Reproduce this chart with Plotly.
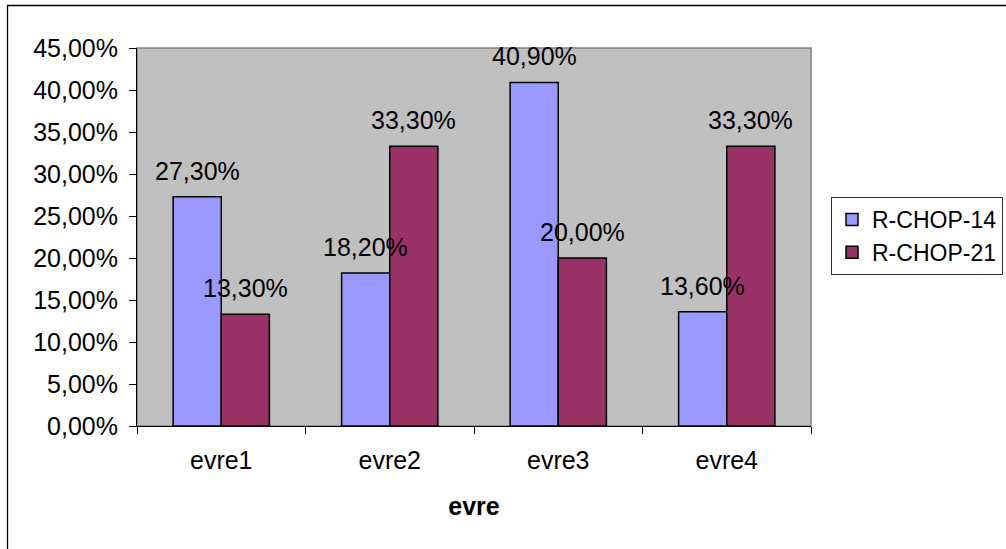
import plotly.graph_objects as go

# Data
categories = ["evre1", "evre2", "evre3", "evre4"]
series_names = ["R-CHOP-14", "R-CHOP-21"]
r_chop_14 = [0.273, 0.182, 0.409, 0.136]
r_chop_21 = [0.133, 0.333, 0.200, 0.333]
y_ticks = [0.00, 0.05, 0.10, 0.15, 0.20, 0.25, 0.30, 0.35, 0.40, 0.45]

colors = ["#9999FF", "#993366"]
FONT = "Liberation Sans, Arial, sans-serif"
FS = 25
FS_LEGEND = 23

W, H = 1006, 549
PL, PR, PT, PB = 137, 811, 48, 426  # plot area in pixels

BARGAP = 1.5 / 3.5  # Excel gap width 150%

fig = go.Figure()
for name, vals, col in zip(series_names, [r_chop_14, r_chop_21], colors):
    fig.add_trace(go.Bar(
        x=categories, y=vals, name=name,
        marker=dict(color=col, line=dict(color="#000000", width=1.5)),
    ))


def pct_label(v):
    return f"{v * 100:.2f}%".replace(".", ",")


# Value labels above each bar
bar_w = (1 - BARGAP) / 2
for s, vals in enumerate([r_chop_14, r_chop_21]):
    off = (s - 0.5) * bar_w
    for i, v in enumerate(vals):
        fig.add_annotation(
            x=i + off, y=v, xref="x", yref="y",
            text=pct_label(v), showarrow=False,
            xanchor="center", yanchor="bottom", yshift=10,
            font=dict(family=FONT, size=FS, color="#000000"),
        )

# Outer chart frame
def px_x(p):
    return (p - PL) / (PR - PL)


def px_y(p):
    return (PB - p) / (PB - PT)


fig.add_shape(
    type="rect", xref="paper", yref="paper",
    x0=px_x(7.5), x1=px_x(W + 20), y0=px_y(H + 20), y1=px_y(5.5),
    line=dict(color="#000000", width=1.3), fillcolor="rgba(0,0,0,0)",
    layer="below",
)
# Plot-area border
fig.add_shape(
    type="rect", xref="paper", yref="paper",
    x0=0, x1=1, y0=0, y1=1,
    line=dict(color="#808080", width=1.5), fillcolor="rgba(0,0,0,0)",
    layer="below",
)

fig.update_layout(
    width=W, height=H,
    margin=dict(l=PL, r=W - PR, t=PT, b=H - PB, pad=0, autoexpand=False),
    paper_bgcolor="#FFFFFF",
    plot_bgcolor="#C0C0C0",
    separators=",.",
    barmode="group",
    bargap=BARGAP,
    bargroupgap=0,
    font=dict(family=FONT, size=FS, color="#000000"),
    showlegend=True,
    legend=dict(
        x=px_x(831), y=px_y(197), xanchor="left", yanchor="top",
        bgcolor="#FFFFFF", bordercolor="#333333", borderwidth=1,
        font=dict(family=FONT, size=FS_LEGEND, color="#000000"),
        traceorder="normal", itemclick=False, itemwidth=30,
    ),
    xaxis=dict(
        type="category",
        showgrid=False, zeroline=False,
        showline=True, linecolor="#000000", linewidth=1,
        ticks="outside", ticklen=7, tickcolor="#000000", tickwidth=1,
        tickson="boundaries",
        tickfont=dict(family=FONT, size=FS, color="#000000"),
        ticklabelstandoff=12,
        title=dict(text="<b>evre</b>", standoff=24,
                   font=dict(family=FONT, size=FS, color="#000000")),
    ),
    yaxis=dict(
        range=[0, 0.45],
        tickvals=y_ticks,
        tickformat=".2%",
        showgrid=False, zeroline=False,
        showline=True, linecolor="#000000", linewidth=1,
        ticks="outside", ticklen=7, tickcolor="#000000", tickwidth=1,
        tickfont=dict(family=FONT, size=FS, color="#000000"),
        ticklabelstandoff=6,
    ),
)

fig.write_html("out.html")
